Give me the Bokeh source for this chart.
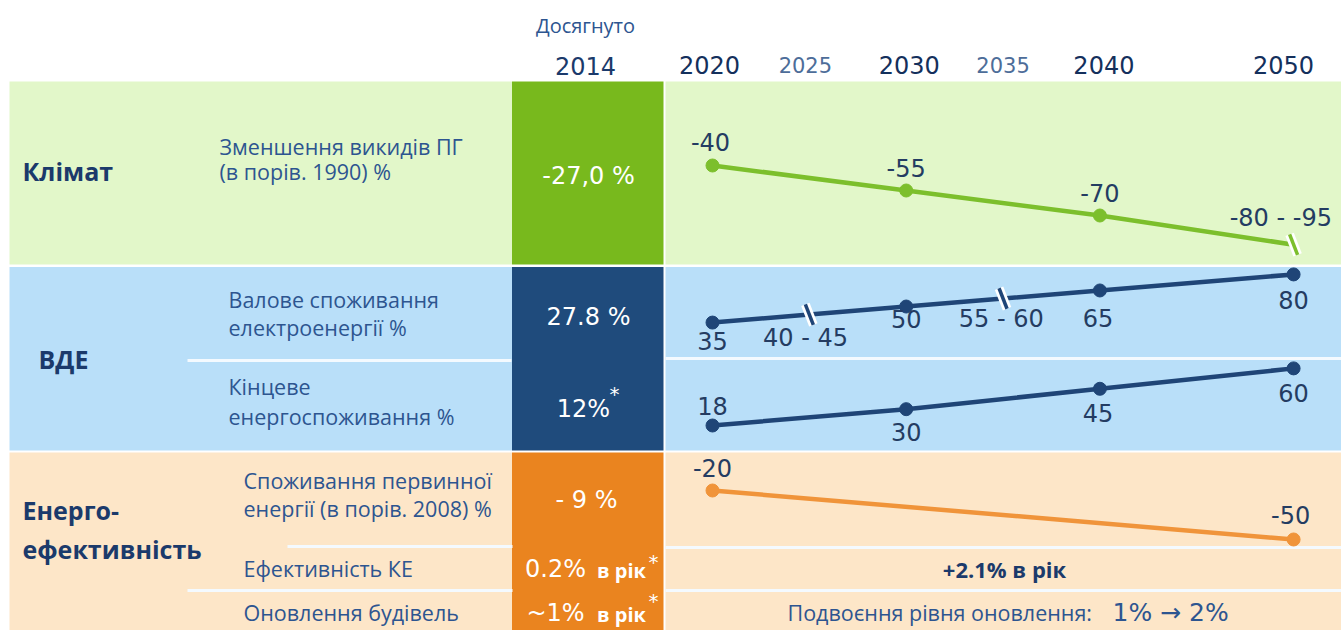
from bokeh.plotting import figure
from bokeh.models import Range1d
from bokeh.core.properties import value
from bokeh.embed import file_html
from bokeh.resources import INLINE

# ---------------- data ----------------
header_top = "Досягнуто"
header_year = "2014"
tick_years = [2020, 2025, 2030, 2035, 2040, 2050]
tick_labels = ["2020", "2025", "2030", "2035", "2040", "2050"]
tick_major = [True, False, True, False, True, True]

group_labels = ["Клімат", "ВДЕ", "Енерго-", "ефективність"]
row_labels = [
    ["Зменшення викидів ПГ", "(в порів. 1990) %"],
    ["Валове споживання", "електроенергії %"],
    ["Кінцеве", "енергоспоживання %"],
    ["Споживання первинної", "енергії (в порів. 2008) %"],
    ["Ефективність КЕ"],
    ["Оновлення будівель"],
]
achieved_2014 = ["-27,0 %", "27.8 %", "12%", "- 9 %", "0.2%", "~1%"]
achieved_suffix = ["", "", "", "", "в рік", "в рік"]
achieved_star = [False, False, True, False, True, True]

clim_years = [2020, 2030, 2040, 2050]
clim_low = [-40, -55, -70, -80]
clim_high = [-40, -55, -70, -95]

el_years = [2020, 2025, 2030, 2035, 2040, 2050]
el_low = [35, 40, 50, 55, 65, 80]
el_high = [35, 45, 50, 60, 65, 80]

fin_years = [2020, 2030, 2040, 2050]
fin_vals = [18, 30, 45, 60]

prim_years = [2020, 2050]
prim_vals = [-20, -50]

ke_target = "+2.1% в рік"
renov_text = "Подвоєння рівня оновлення:"
renov_target = "1% \u2192 2%"

# ---------------- styles / layout ----------------
GREEN_L, BLUE_L, ORANGE_L = "#e2f7c9", "#b9dff9", "#fde6c8"
GREEN, NAVY, ORANGE = "#78b91d", "#1f4b7c", "#ea841f"
LINE_GREEN, LINE_NAVY, LINE_ORANGE = "#7cbf2c", "#1f4577", "#f0943a"
HEAD_C, LAB_C, NUM_C = "#1b3a6b", "#2d5590", "#243c62"
LAB_FONT, NUM_FONT = "Open Sans", "DejaVu Sans"

W, H = 1341, 630
PX2020, PXYR = 712.0, 19.37


def yr_at(px):
    return 2020 + (px - PX2020) / PXYR


def vrange(v0, px0, ppu):
    return Range1d(v0 + (px0 - H) / ppu, v0 + (px0 - 0) / ppu)


p = figure(width=W, height=H, output_backend="svg", toolbar_location=None,
           x_range=Range1d(0, W), y_range=Range1d(H, 0),
           min_border=0, x_axis_location=None, y_axis_location=None)
p.grid.visible = False
p.outline_line_color = None
p.background_fill_color = "white"
p.border_fill_color = "white"
p.extra_x_ranges = {"yr": Range1d(yr_at(0), yr_at(W))}
p.extra_y_ranges = {
    "clim": vrange(-40, 165, 1.667),
    "el": vrange(57.5, 298, 1.07),
    "fin": vrange(18, 425, 1.36),
    "prim": vrange(-20, 490, 1.633),
}

# bands
band_top = [81, 266.5, 452]
band_bot = [264, 450, 632]
p.quad(left=[9] * 3, right=[511.5] * 3, top=band_top, bottom=band_bot,
       fill_color=[GREEN_L, BLUE_L, ORANGE_L], line_color=None)
p.quad(left=[511.5] * 3, right=[663] * 3, top=band_top, bottom=band_bot,
       fill_color=[GREEN, NAVY, ORANGE], line_color=None)
p.quad(left=[665] * 3, right=[1345] * 3, top=band_top, bottom=band_bot,
       fill_color=[GREEN_L, BLUE_L, ORANGE_L], line_color=None)

# row separators
p.segment(x0=[187, 287, 187, 665, 665, 665], y0=[360, 546, 590, 358, 547, 590],
          x1=[511, 512, 512, 1345, 1345, 1345], y1=[360, 546, 590, 358, 547, 590],
          line_color="#f4faff", line_width=3)

# header
p.text(x=[585], y=[25], text=[header_top], text_font=value(LAB_FONT), text_font_size="20px",
       text_color=LAB_C, text_align="center", text_baseline="middle")
p.text(x=[585], y=[65], text=[header_year], text_font=value(NUM_FONT), text_font_size="24px",
       text_color=HEAD_C, text_align="center", text_baseline="middle")
tick_dx = [-3, -4, 3, 0, 4, -10]
for yv, lab, major, dx in zip(tick_years, tick_labels, tick_major, tick_dx):
    p.text(x=[yv], y=[64], x_range_name="yr", text=[lab], x_offset=dx,
           text_font=value(NUM_FONT), text_font_size="24px" if major else "21px",
           text_font_style="normal",
           text_color="#14305c" if major else "#4d6d99", text_align="center", text_baseline="middle")

# group labels
p.text(x=[22, 38, 22, 22], y=[170, 358, 509, 548], text=group_labels,
       text_font=value(LAB_FONT), text_font_size="25px", text_font_style="bold",
       text_color=HEAD_C, text_align="left", text_baseline="middle")

# row labels
row_x = [219, 228, 228, 243, 243, 243]
row_y = [[146, 171], [299, 327], [386, 416], [480, 508], [568], [612]]
for lines, xx, ys in zip(row_labels, row_x, row_y):
    p.text(x=[xx] * len(lines), y=ys, text=lines, text_font=value(LAB_FONT),
           text_font_size="21.5px", text_color=LAB_C, text_align="left", text_baseline="middle")

# achieved 2014 column
ach_x = [588, 588, 583, 586, 555, 555]
ach_y = [175, 316, 408, 499, 568, 612]
p.text(x=ach_x, y=ach_y, text=achieved_2014, text_font=value(NUM_FONT), text_font_size="24px",
       text_color="white", text_align="center", text_baseline="middle")
suf_x = [xx + 66 for xx, s in zip(ach_x, achieved_suffix) if s]
suf_y = [yy + 2 for yy, s in zip(ach_y, achieved_suffix) if s]
p.text(x=suf_x, y=suf_y, text=[s for s in achieved_suffix if s], text_font=value(LAB_FONT),
       text_font_size="20px", text_font_style="bold", text_color="white",
       text_align="center", text_baseline="middle")
star_x = [614, 653, 653]
star_y = [393, 561, 600]
p.text(x=star_x, y=star_y, text=["*" for s in achieved_star if s], text_font=value(NUM_FONT),
       text_font_size="20px", text_color="white", text_align="center", text_baseline="middle")


def series(years, low, high, rname, color, lab_dx, lab_dy):
    mid = [(a + b) / 2 for a, b in zip(low, high)]
    p.line(x=years, y=mid, x_range_name="yr", y_range_name=rname, line_color=color, line_width=4.5)
    pts = [(x, m) for x, a, b, m in zip(years, low, high, mid) if a == b]
    brk = [(x, m) for x, a, b, m in zip(years, low, high, mid) if a != b]
    if pts:
        p.scatter(x=[q[0] for q in pts], y=[q[1] for q in pts], x_range_name="yr", y_range_name=rname,
                  size=13, fill_color=color, line_color=color)
    if brk:
        bx, by = [q[0] for q in brk], [q[1] for q in brk]
        p.scatter(x=bx, y=by, x_range_name="yr", y_range_name=rname, marker="dash", size=22,
                  angle=-1.2, line_color="white", line_width=9)
        p.scatter(x=bx, y=by, x_range_name="yr", y_range_name=rname, marker="dash", size=22,
                  angle=-1.2, line_color=color, line_width=3.5)
    labels = [f"{a}" if a == b else f"{a} -  {b}" for a, b in zip(low, high)]
    p.text(x=years, y=mid, x_range_name="yr", y_range_name=rname, text=labels,
           x_offset=lab_dx, y_offset=lab_dy, text_font=value(NUM_FONT), text_font_size="24px",
           text_color=NUM_C, text_align="center", text_baseline="middle")


series(clim_years, clim_low, clim_high, "clim", LINE_GREEN, [-2, 0, 0, -9], [-24, -23, -23, -27])
series(el_years, el_low, el_high, "el", LINE_NAVY, [0, 0, 0, 2, -2, 0], [18, 23, 12, 20, 28, 26])
series(fin_years, fin_vals, fin_vals, "fin", LINE_NAVY, [0, 0, -2, 0], [-20, 23, 24, 25])
series(prim_years, prim_vals, prim_vals, "prim", LINE_ORANGE, [0, -3], [-23, -24])

# right-hand text rows
p.text(x=[1004], y=[568], text=[ke_target], text_font=value(LAB_FONT), text_font_size="22px",
       text_font_style="bold", text_color=HEAD_C, text_align="center", text_baseline="middle")
p.text(x=[787], y=[612], text=[renov_text], text_font=value(LAB_FONT), text_font_size="21.5px",
       text_color=LAB_C, text_align="left", text_baseline="middle")
p.text(x=[1112], y=[612], text=[renov_target], text_font=value(NUM_FONT), text_font_size="25px",
       text_color=LAB_C, text_align="left", text_baseline="middle")

open("out.html", "w").write(file_html(p, INLINE))
